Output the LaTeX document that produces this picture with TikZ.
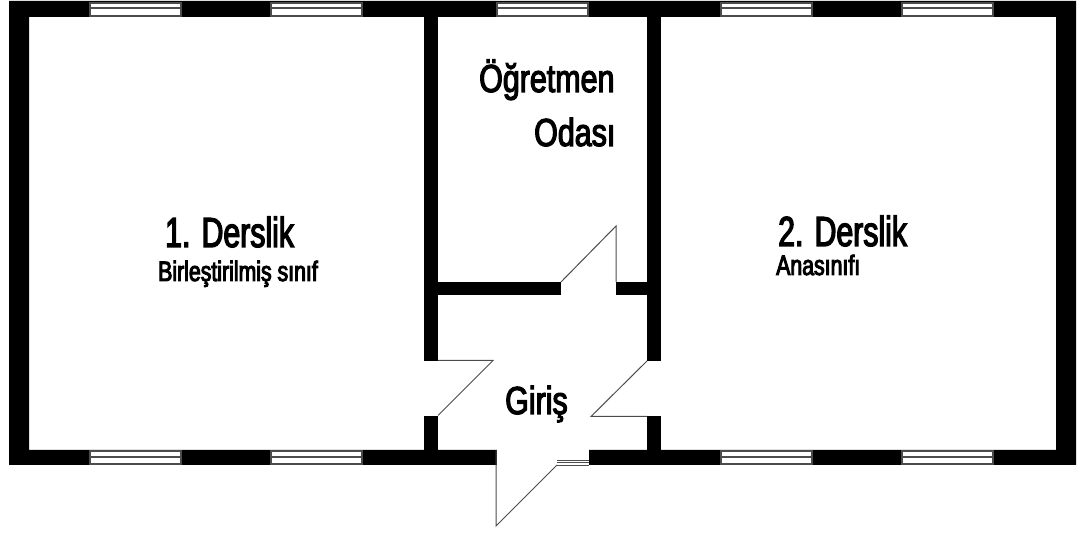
\documentclass[tikz,border=0pt]{standalone}
\usepackage{fontspec}
\setmainfont{Liberation Sans}
\newfontfamily\titlefont[FakeStretch=0.72,FakeBold=3]{Liberation Sans}
\newfontfamily\roomfont[FakeStretch=0.78,FakeBold=3]{Liberation Sans}
\newfontfamily\subfont[FakeStretch=0.76,FakeBold=3.5]{Liberation Sans}
\begin{document}
\begin{tikzpicture}[x=1pt,y=-1pt,
  wall/.style={fill=black,draw=none},
  glass/.style={draw=black!70,line width=1.3pt,fill=white},
  leaf/.style={draw=black!70,line width=1pt,line join=miter},
  label/.style={inner sep=0pt,anchor=base west,text=black}]
\useasboundingbox (0,0) rectangle (1082,534);
% outer walls with inner wall segments
\fill[wall,even odd rule] (9,1) rectangle (1076,465) (29,17) rectangle (1056,450);
\fill[wall] (424,17) rectangle (438,361);
\fill[wall] (424,416) rectangle (438,450);
\fill[wall] (647,17) rectangle (661,361);
\fill[wall] (647,416) rectangle (661,450);
\fill[wall] (438,282) rectangle (561,295);
\fill[wall] (616,282) rectangle (647,295);
% opening in the bottom wall
\fill[white] (497,449) rectangle (589,466);
% windows
\foreach \xa/\xb in {90/181,271/362,497/588,721/812,902/993}{
  \draw[glass] (\xa,3) rectangle (\xb,16);
  \draw[glass] (\xa,8) -- (\xb,8);
}
\foreach \xa/\xb in {90/181,271/362,721/812,902/993}{
  \draw[glass] (\xa,451) rectangle (\xb,464);
  \draw[glass] (\xa,457) -- (\xb,457);
}
% entrance sill
\draw[black!70,line width=0.9pt] (557,460) -- (589,460) (557,462.5) -- (589,462.5) (557,465) -- (589,465);
% door leaves
\draw[leaf] (438,360.5) -- (493,360.5) -- (438,415.5);
\draw[leaf] (647,361) -- (591,416.5) -- (647,416.5);
\draw[leaf] (561,282) -- (616,226) -- (616,282);
\draw[leaf] (496,450) -- (496,526) -- (557,465);
% labels
\node[label,font=\titlefont\fontsize{42}{42}\selectfont] (d1) at (165,247) {1. Derslik};
\node[label,font=\subfont\fontsize{28}{28}\selectfont] (s1) at (158,281) {Birleştirilmiş sınıf};
\node[label,font=\titlefont\fontsize{42}{42}\selectfont] (d2) at (778,246) {2. Derslik};
\node[label,font=\subfont\fontsize{28}{28}\selectfont] (s2) at (776,275) {Anasınıfı};
\node[label,font=\roomfont\fontsize{39}{39}\selectfont] (o1) at (479,92) {Öğretmen};
\node[label,font=\roomfont\fontsize{39}{39}\selectfont] (o2) at (534,146) {Odası};
\node[label,font=\roomfont\fontsize{39}{39}\selectfont] (g) at (505,414) {Giriş};
\end{tikzpicture}
\end{document}
